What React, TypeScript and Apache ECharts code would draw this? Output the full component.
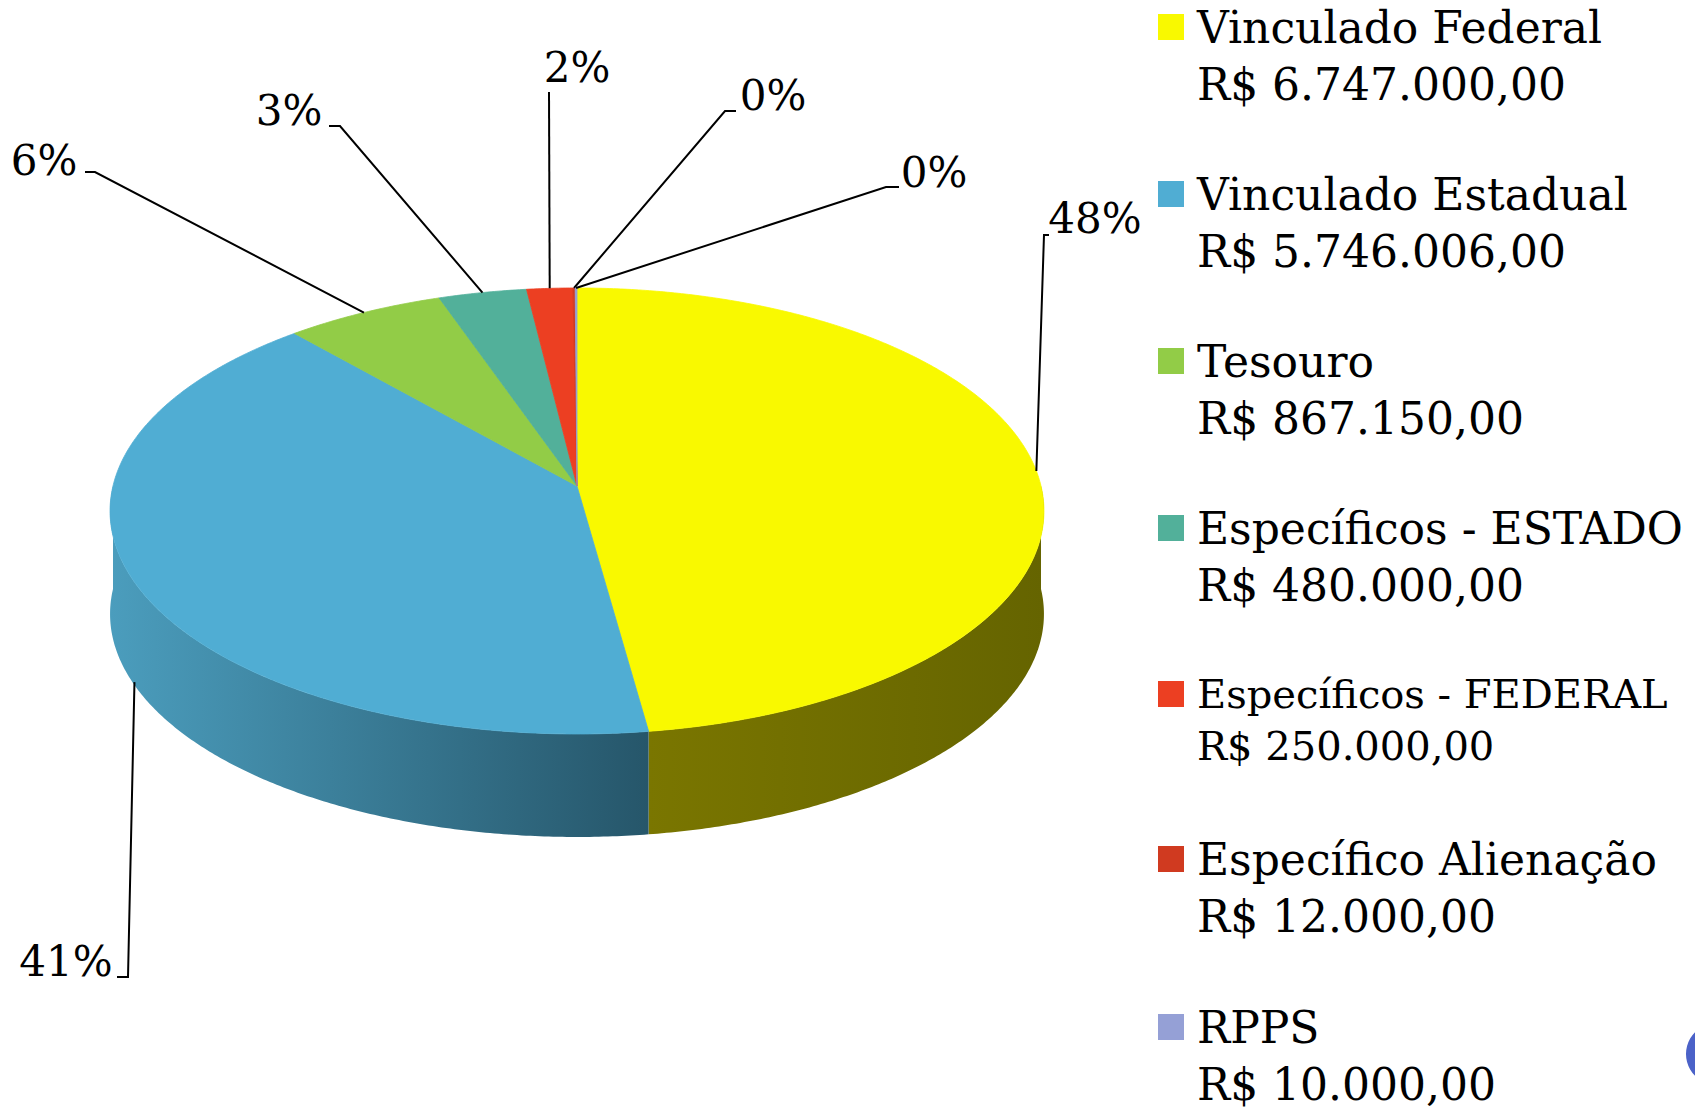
import React, { useEffect, useRef } from "react";
import * as echarts from "echarts";

// ---- data ----
const categories = [
  "Vinculado Federal",
  "Vinculado Estadual",
  "Tesouro",
  "Específicos - ESTADO",
  "Específicos - FEDERAL",
  "Específico Alienação",
  "RPPS",
];
const values = [6747000, 5746006, 867150, 480000, 250000, 12000, 10000];

// ---- styles ----
const sliceColors = ["#F9F900", "#50ADD3", "#92CC47", "#52B09A", "#EC3F22", "#D03A20", "#95A0D6"];
const sideColors = [
  ["#7A7600", "#656400"],
  ["#4B9DBD", "#26566A"],
  ["#6A9A33", "#4A6E22"],
  ["#3C8574", "#2A5E52"],
  ["#B03019", "#7A2211"],
  ["#9A2B18", "#6A1D10"],
  ["#6E77A0", "#4C5270"],
];
const smallLegend = ["Específicos - FEDERAL"];

// legend blocks: [first index, last index, top px, item gap px]
const legendBlocks = [
  [0, 3, 5, 66],
  [4, 4, 674, 0],
  [5, 6, 837, 67],
];

// label layout (pixel positions of the percentage texts and elbows of their leader lines)
const labelLayout = [
  { x: 1095, y: 218, elbow: [[1044, 235], [1049, 235]], dy: 0 },
  { x: 66, y: 961, elbow: [[128, 977], [117, 977]], dy: 100 },
  { x: 44, y: 160, elbow: [[95, 172], [85, 172]], dy: 0 },
  { x: 289, y: 110, elbow: [[340, 126], [329, 126]], dy: 0 },
  { x: 577, y: 67, elbow: [[549, 92]], dy: 0 },
  { x: 773, y: 95, elbow: [[725, 111], [736, 111]], dy: 0 },
  { x: 934, y: 172, elbow: [[886, 187], [899, 187]], dy: 0 },
];

// pie geometry (pixels)
const PIE = { cx: 577, cy: 486, rx: 464, ry: 220.2, persp: 0.112, depth: 103 };
const FONT = "DejaVu Serif";

function formatBRL(v: number): string {
  const int = Math.floor(v).toString();
  let out = "";
  for (let i = 0; i < int.length; i++) {
    if (i > 0 && (int.length - i) % 3 === 0) out += ".";
    out += int[i];
  }
  return "R$ " + out + ",00";
}

function proj(theta: number, dy = 0): number[] {
  const u = Math.sin(theta);
  const v = Math.cos(theta);
  const d = 1 + PIE.persp * v;
  return [PIE.cx + (PIE.rx * u) / d, PIE.cy - (PIE.ry * v) / d + dy];
}

function arc(a0: number, a1: number, dy = 0): number[][] {
  const n = Math.max(2, Math.ceil(((a1 - a0) / (Math.PI * 2)) * 720));
  const pts: number[][] = [];
  for (let k = 0; k <= n; k++) pts.push(proj(a0 + ((a1 - a0) * k) / n, dy));
  return pts;
}

const total = values.reduce((s, v) => s + v, 0);
const fractions = values.map((v) => v / total);
const starts: number[] = [];
{
  let acc = 0;
  for (const f of fractions) {
    starts.push(acc);
    acc += f;
  }
}

function makeRenderItem(i: number) {
  return (params: any, api: any) => {
    const f0 = api.value(0) as number;
    const f1 = api.value(1) as number;
    const pct = api.value(2) as number;
    const a0 = f0 * Math.PI * 2;
    const a1 = f1 * Math.PI * 2;
    const children: any[] = [];

    // side wall (front half only)
    const s = Math.max(a0, Math.PI / 2);
    const e = Math.min(a1, (Math.PI * 3) / 2);
    if (e > s) {
      const top = arc(s, e);
      const bottom = arc(s, e, PIE.depth).reverse();
      const xs = top.map((p) => p[0]);
      const xmin = Math.min(...xs);
      const xmax = Math.max(...xs);
      children.push({
        type: "polygon",
        shape: { points: top.concat(bottom) },
        style: {
          fill: new echarts.graphic.LinearGradient(
            xmin, 0, xmax, 0,
            [
              { offset: 0, color: sideColors[i][0] },
              { offset: 1, color: sideColors[i][1] },
            ],
            true
          ),
          stroke: null,
        },
      });
    }

    // top face
    const apex = [PIE.cx, PIE.cy];
    children.push({
      type: "polygon",
      shape: { points: [apex].concat(arc(a0, a1)) },
      style: { fill: sliceColors[i], stroke: sliceColors[i], lineWidth: 0.8 },
    });

    // leader line + percentage label
    const lay = labelLayout[i];
    const anchor = proj((a0 + a1) / 2, lay.dy);
    children.push({
      type: "polyline",
      shape: { points: [anchor].concat(lay.elbow) },
      style: { stroke: "#000", lineWidth: 2, fill: null },
    });
    children.push({
      type: "text",
      x: lay.x,
      y: lay.y,
      style: {
        text: Math.round(pct * 100) + "%",
        fill: "#000",
        fontFamily: FONT,
        fontSize: 42,
        align: "center",
        verticalAlign: "middle",
      },
    });
    return { type: "group", children };
  };
}

function makeLegend(first: number, last: number, top: number, gap: number) {
  return {
    orient: "vertical",
    left: 1158,
    top,
    padding: 0,
    itemGap: gap,
    itemWidth: 26,
    itemHeight: 26,
    icon: "rect",
    selectedMode: false,
    data: categories.slice(first, last + 1),
    formatter: (name: string) => {
      const i = categories.indexOf(name);
      const small = smallLegend.includes(name);
      return small
        ? `{n2|${name}}\n{v2|${formatBRL(values[i])}}`
        : `{n|${name}}\n{v|${formatBRL(values[i])}}`;
    },
    textStyle: {
      color: "#000",
      fontFamily: FONT,
      fontSize: 44,
      padding: [57, 0, 0, 8],
      rich: {
        n: { fontFamily: FONT, fontSize: 44, lineHeight: 57, color: "#000" },
        v: { fontFamily: FONT, fontSize: 44, lineHeight: 57, color: "#000" },
        n2: { fontFamily: FONT, fontSize: 40, lineHeight: 47, color: "#000" },
        v2: { fontFamily: FONT, fontSize: 40, lineHeight: 57, color: "#000" },
      },
    },
  };
}

export default function App() {
  const ref = useRef<HTMLDivElement>(null);
  useEffect(() => {
    if (!ref.current) return;
    const chart = echarts.init(ref.current, undefined, { renderer: "svg" });
    const series = categories.map((name, i) => ({
      type: "custom",
      name,
      coordinateSystem: "none",
      itemStyle: { color: sliceColors[i] },
      renderItem: makeRenderItem(i),
      data: [[starts[i], starts[i] + fractions[i], fractions[i]]],
      silent: true,
    }));
    chart.setOption({
      animation: false,
      backgroundColor: "#FFFFFF",
      legend: legendBlocks.map((b) => makeLegend(b[0], b[1], b[2], b[3])),
      graphic: [
        {
          type: "circle",
          shape: { cx: 1717, cy: 1054, r: 31 },
          style: { fill: "#4B62C8" },
        },
      ],
      series,
    });
    return () => chart.dispose();
  }, []);
  return (
    <div
      ref={ref}
      style={{ position: "fixed", left: 0, top: 0, width: 1695, height: 1112, background: "#fff" }}
    />
  );
}
